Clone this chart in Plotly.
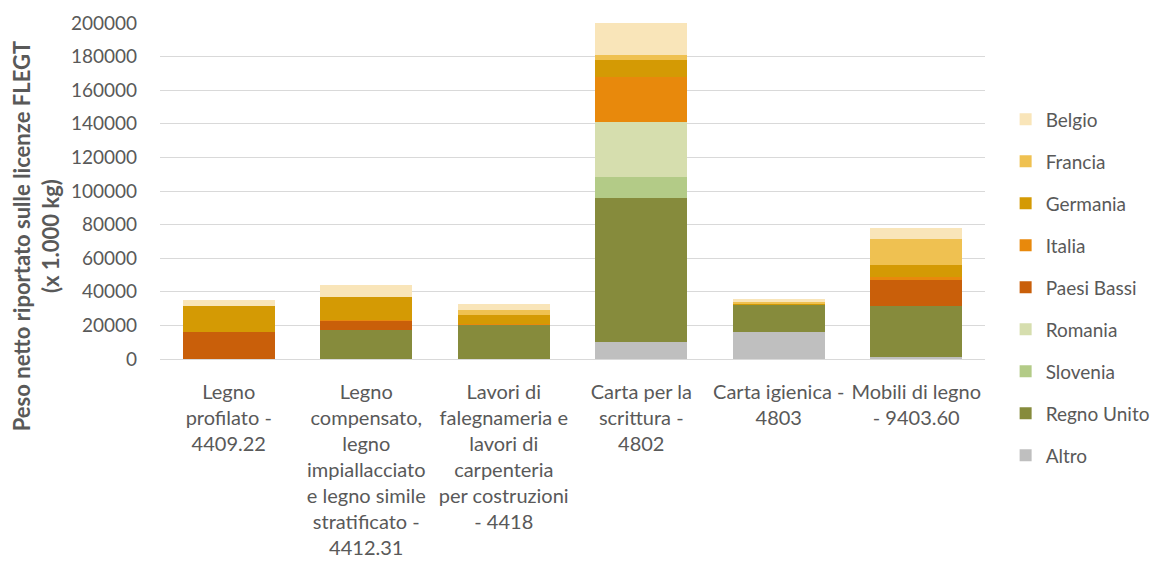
import plotly.graph_objects as go

categories = [
    'Legno<br>profilato -<br>4409.22',
    'Legno<br>compensato,<br>legno<br>impiallacciato<br>e legno simile<br>stratificato -<br>4412.31',
    'Lavori di<br>falegnameria e<br>lavori di<br>carpenteria<br>per costruzioni<br>- 4418',
    'Carta per la<br>scrittura -<br>4802',
    'Carta igienica -<br>4803',
    'Mobili di legno<br>- 9403.60',
]

# stacked from bottom to top
altro = [0, 300, 0, 10300, 15800, 1400]
regno_unito = [0, 16700, 20500, 85300, 16900, 30100]
slovenia = [0, 0, 0, 12500, 0, 0]
romania = [0, 0, 0, 32700, 0, 0]
paesi_bassi = [16000, 5800, 0, 0, 0, 15500]
italia = [0, 400, 300, 27200, 0, 2000]
germania = [15500, 13800, 5600, 9900, 300, 6900]
francia = [0, 0, 3000, 3200, 1100, 15500]
belgio = [3500, 6800, 3100, 19000, 1600, 6500]

series = [
    ('Altro', altro, '#BFBFBF'),
    ('Regno Unito', regno_unito, '#868B3C'),
    ('Slovenia', slovenia, '#B3CB87'),
    ('Romania', romania, '#D6DEAE'),
    ('Paesi Bassi', paesi_bassi, '#C95F0A'),
    ('Italia', italia, '#E8890C'),
    ('Germania', germania, '#D49A04'),
    ('Francia', francia, '#EFC151'),
    ('Belgio', belgio, '#F9E5B9'),
]

fig = go.Figure()
n = len(series)
for i, (name, vals, col) in enumerate(series):
    leg = 'legend' if i == 0 else f'legend{i + 1}'
    fig.add_trace(go.Bar(x=categories, y=vals, name=name, marker_color=col,
                         marker_line_width=0, legend=leg))
    # one small legend per entry, so the rows can be spaced like the original
    row = n - 1 - i  # Belgio on top
    fig.update_layout(**{leg: dict(x=1.025, xanchor='left',
                                   y=0.713 - row * 0.125, yanchor='middle',
                                   font=dict(size=19, color='#595959'),
                                   itemwidth=30, bgcolor='rgba(0,0,0,0)')})

# page body has an 8px margin, so the figure is 8px smaller than the window
fig.update_layout(
    barmode='stack',
    bargap=0.33,
    width=1153,
    height=553,
    margin=dict(l=152, r=176, t=15, b=202, autoexpand=False),
    plot_bgcolor='white',
    paper_bgcolor='white',
    font=dict(family='Lato, Open Sans, sans-serif', size=20, color='#595959'),
    showlegend=True,
)
fig.update_yaxes(range=[0, 200000], dtick=20000, showgrid=True, gridcolor='#D9D9D9',
                 gridwidth=1, zeroline=False, tickformat='d', ticklabelstandoff=22,
                 showline=False, automargin=False, tickfont=dict(size=19))
fig.update_xaxes(showline=True, linecolor='#D9D9D9', ticklabelstandoff=15, tickangle=0,
                 automargin=False, tickfont=dict(size=20))

fig.add_annotation(
    text='<b>Peso netto riportato sulle licenze FLEGT<br>(x 1.000 kg)</b>',
    xref='paper', yref='paper', x=-0.150, y=0.366, xanchor='center', yanchor='middle',
    textangle=-90, showarrow=False, font=dict(size=22, color='#595959'), align='center',
)

fig.write_html('out.html')
